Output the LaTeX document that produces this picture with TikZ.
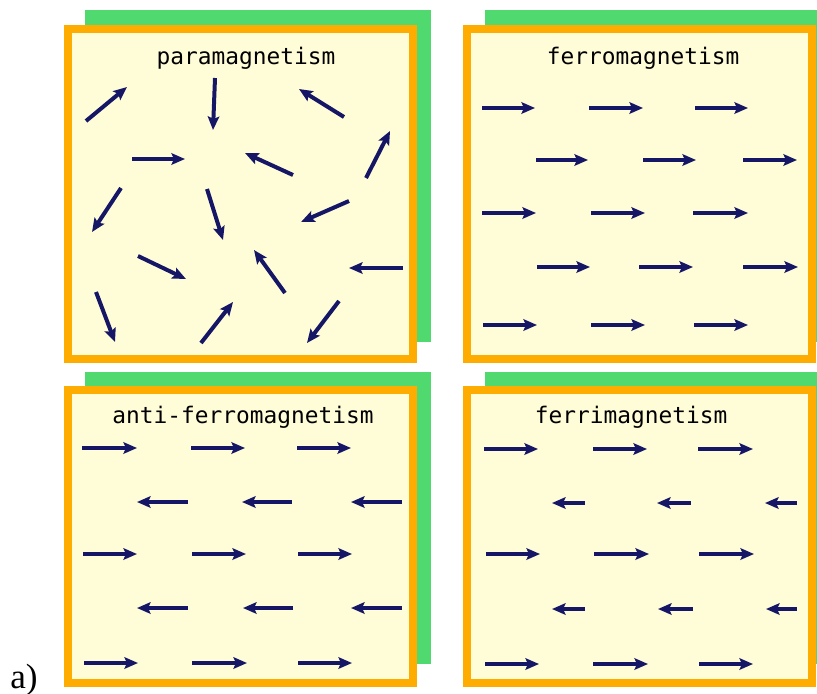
\documentclass[tikz,border=0pt]{standalone}
\usepackage{fontspec}
\usepackage{xcolor}
\usepackage{tikz}
\usetikzlibrary{arrows.meta}

\newfontfamily\titlefont{DejaVu Sans Mono}
\newfontfamily\labelfont{Liberation Serif}
\definecolor{frameorange}{RGB}{255,172,0}
\definecolor{backgreen}{RGB}{80,217,110}
\definecolor{panelcream}{RGB}{255,253,216}
\definecolor{spinblue}{RGB}{22,22,102}

\begin{document}
\begin{tikzpicture}[x=0.02cm, y=-0.02cm,
    spin/.style={-{Stealth[length=0.27cm, width=0.23cm, inset=0.05cm]}, line width=0.08cm, spinblue},
    panel/.style={draw=frameorange, line width=0.16cm, fill=panelcream},
    shadow/.style={fill=backgreen},
    title/.style={font=\titlefont\fontsize{13}{15}\selectfont, anchor=base}]
    \clip (0,0) rectangle (817,693);

    % green backs and orange frames
    \fill[shadow] (85,10) rectangle (431,342);
    \fill[shadow] (485,10) rectangle (830,342);
    \fill[shadow] (85,372) rectangle (431,664);
    \fill[shadow] (485,372) rectangle (830,664);
    \draw[panel] (68,29) rectangle (413,359);
    \draw[panel] (467,29) rectangle (812,359);
    \draw[panel] (68,390) rectangle (413,683);
    \draw[panel] (467,390) rectangle (812,683);

    \node[title] (para) at (246,64) {paramagnetism};
    \node[title] (ferro) at (643,64) {ferromagnetism};
    \node[title] (anti) at (243,423) {anti-ferromagnetism};
    \node[title] (ferri) at (631,423) {ferrimagnetism};
    \node[font=\labelfont\fontsize{20}{24}\selectfont, anchor=base west, inner sep=0pt] (sub) at (10,688) {a)};

    % paramagnetism
    \path[spin]
        (86,121) edge (127,87)
        (215,78) edge (213,130)
        (344,117) edge (299,89)
        (366,178) edge (390,131)
        (132,159) edge (185,159)
        (293,175) edge (245,153)
        (121,188) edge (92,232)
        (207,189) edge (223,240)
        (349,201) edge (301,222)
        (138,256) edge (186,279)
        (285,293) edge (254,250)
        (403,268) edge (349,268)
        (96,292) edge (115,342)
        (201,343) edge (233,302)
        (339,301) edge (307,343);

    % ferromagnetism
    \path[spin]
        (482,108) edge (535,108) (589,108) edge (643,108) (695,108) edge (748,108)
        (536,160) edge (588,160) (643,160) edge (696,160) (743,160) edge (797,160)
        (482,213) edge (536,213) (591,213) edge (645,213) (693,213) edge (748,213)
        (537,267) edge (590,267) (639,267) edge (693,267) (743,267) edge (798,267)
        (483,325) edge (537,325) (591,325) edge (645,325) (694,325) edge (748,325);

    % anti-ferromagnetism
    \path[spin]
        (82,448) edge (137,448) (191,448) edge (245,448) (297,448) edge (351,448)
        (188,502) edge (137,502) (292,502) edge (242,502) (402,502) edge (351,502)
        (83,554) edge (137,554) (192,554) edge (246,554) (298,554) edge (352,554)
        (188,608) edge (137,608) (293,608) edge (243,608) (402,608) edge (351,608)
        (84,663) edge (138,663) (192,663) edge (247,663) (298,663) edge (352,663);

    % ferrimagnetism
    \path[spin]
        (484,449) edge (538,449) (593,449) edge (647,449) (698,449) edge (753,449)
        (585,503) edge (552,503) (691,503) edge (657,503) (797,503) edge (765,503)
        (486,554) edge (540,554) (594,554) edge (649,554) (699,554) edge (754,554)
        (585,609) edge (552,609) (693,609) edge (658,609) (797,609) edge (766,609)
        (485,664) edge (539,664) (593,664) edge (648,664) (699,664) edge (753,664);
\end{tikzpicture}
\end{document}
